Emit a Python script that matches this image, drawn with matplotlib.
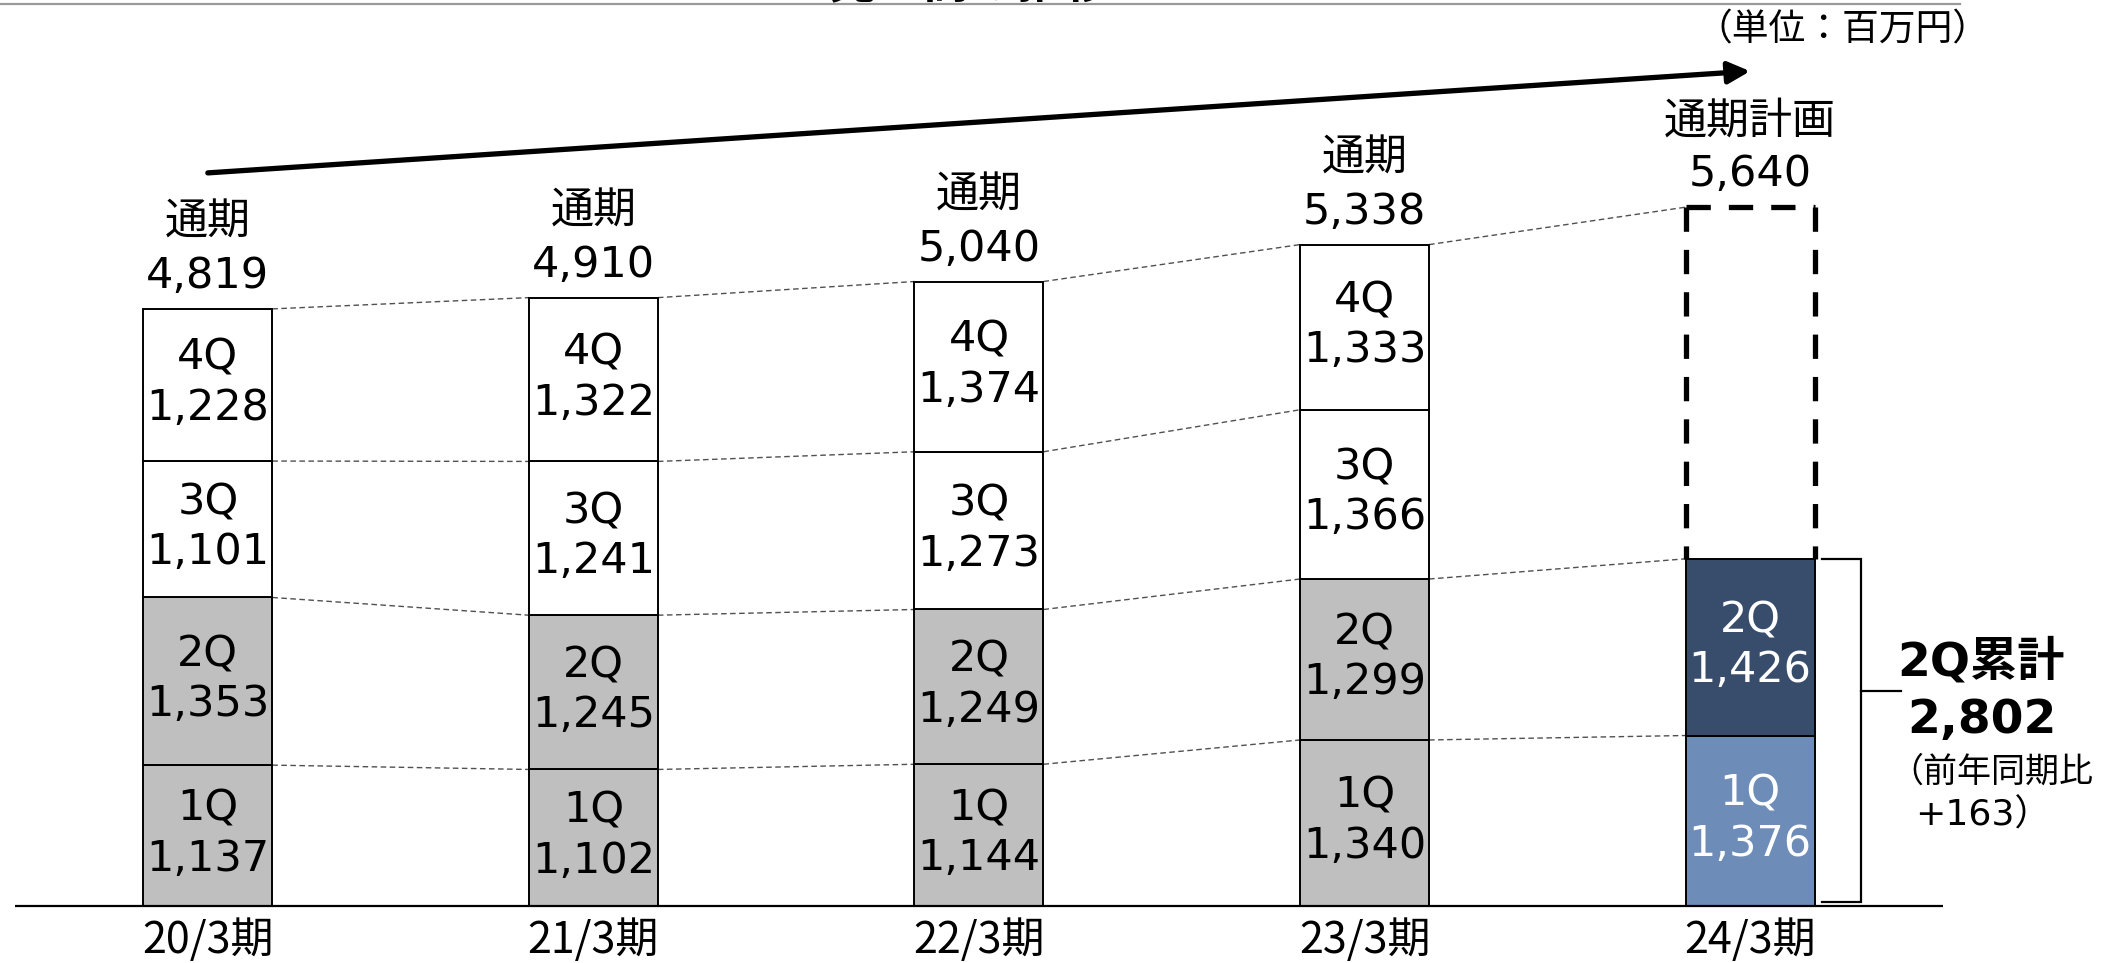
import matplotlib
matplotlib.use("Agg")
import matplotlib.pyplot as plt
import numpy as np

plt.rcParams["lines.scale_dashes"] = False

# ---- data (百万円) ----
periods = ["20/3期", "21/3期", "22/3期", "23/3期", "24/3期"]
q1 = [1137, 1102, 1144, 1340, 1376]
q2 = [1353, 1245, 1249, 1299, 1426]
q3 = [1101, 1241, 1273, 1366]
q4 = [1228, 1322, 1374, 1333]
full_year = [4819, 4910, 5040, 5338]
plan_full_year = 5640
h1_total = q1[4] + q2[4]           # 2,802
h1_prev = q1[3] + q2[3]            # 2,639
h1_diff = h1_total - h1_prev       # +163

GRAY = "#BFBFBF"
NAVY = "#384D6C"
LIGHT = "#6D8CB8"
MIX = ["DejaVu Sans", "Noto Sans CJK JP"]
JP = ["Noto Sans CJK JP", "DejaVu Sans"]
PX = 0.72  # points per pixel at 100 dpi
FS = 31

fig = plt.figure(figsize=(21.01, 9.63), dpi=100)
ax = fig.add_axes([0, 0, 1, 1])
ax.set_xlim(-0.539, 4.910)
ax.set_ylim(-460.0, 7312.0)
ax.axis("off")

x = np.arange(len(periods))
w = 0.3346

# ---- stacked bars ----
c1 = np.array(q1)
c2 = c1 + np.array(q2)
c3 = c2[:4] + np.array(q3)
c4 = c3 + np.array(q4)

col1 = [GRAY] * 4 + [LIGHT]
col2 = [GRAY] * 4 + [NAVY]
ax.bar(x, q1, w, color=col1, edgecolor="black", lw=1.4, zorder=3)
ax.bar(x, q2, w, bottom=c1, color=col2, edgecolor="black", lw=1.4, zorder=3)
ax.bar(x[:4], q3, w, bottom=c2[:4], color="white", edgecolor="black", lw=1.4, zorder=3)
ax.bar(x[:4], q4, w, bottom=c3, color="white", edgecolor="black", lw=1.4, zorder=3)


def seg_label(xi, bottom, height, name, value, color):
    mid = bottom + height / 2
    ax.annotate(name, (xi, mid), xytext=(0, 15 * PX), textcoords="offset points",
                ha="center", va="baseline", fontsize=FS, family=MIX, color=color, zorder=5)
    ax.annotate(f"{value:,}", (xi, mid), xytext=(0, -35 * PX), textcoords="offset points",
                ha="center", va="baseline", fontsize=FS, family=MIX, color=color, zorder=5)


for i in range(5):
    tc = "white" if i == 4 else "black"
    seg_label(i, 0, q1[i], "1Q", q1[i], tc)
    seg_label(i, c1[i], q2[i], "2Q", q2[i], tc)
    if i < 4:
        seg_label(i, c2[i], q3[i], "3Q", q3[i], tc)
        seg_label(i, c3[i], q4[i], "4Q", q4[i], tc)

# ---- full-year labels ----
tops = full_year + [plan_full_year]
for i, top in enumerate(tops):
    head = "通期計画" if i == 4 else "通期"
    ax.annotate(f"{top:,}", (i, top), xytext=(0, 21 * PX), textcoords="offset points",
                ha="center", va="baseline", fontsize=FS, family=MIX, zorder=5)
    ax.annotate(head, (i, top), xytext=(0, 74 * PX), textcoords="offset points",
                ha="center", va="baseline", fontsize=FS, family=MIX, zorder=5)

# ---- plan box (dashed) ----
xl, xr = 4 - w / 2, 4 + w / 2
dash = dict(color="black", lw=3.8, dashes=(17.5, 13.0), solid_capstyle="butt",
            dash_capstyle="butt", zorder=4)
ax.plot([xl, xl], [plan_full_year, h1_total], **dash)
ax.plot([xr, xr], [plan_full_year, h1_total], **dash)
ax.plot([xl, xr], [plan_full_year, plan_full_year], **dash)

# ---- connectors between bars ----
levels_past = [c1, c2, c3, c4]
conn = dict(color="#505050", lw=1.0, dashes=(4.0, 2.5), zorder=2)
for i in range(3):
    for lev in levels_past:
        ax.plot([i + w / 2, i + 1 - w / 2], [lev[i], lev[i + 1]], **conn)
for a, b in [(c1[3], c1[4]), (c2[3], c2[4]), (c4[3], plan_full_year)]:
    ax.plot([3 + w / 2, 4 - w / 2], [a, b], **conn)

# ---- baseline ----
ax.plot([-0.5, 4.5], [0, 0], color="black", lw=1.6, zorder=4, solid_capstyle="butt")

# ---- period labels ----
for i, p in enumerate(periods):
    ax.annotate(p, (i, 0), xytext=(0, -35 * PX), textcoords="offset points",
                ha="center", va="center", fontsize=31, family=JP)

# ---- growth arrow ----
lift = 136 / 0.1239
ax.annotate("", xy=(4, plan_full_year + lift), xytext=(0, full_year[0] + lift),
            arrowprops=dict(arrowstyle="-|>,head_length=0.6,head_width=0.3",
                            mutation_scale=22, lw=3.8, color="black",
                            shrinkA=0, shrinkB=0), zorder=5)

# ---- first-half bracket and summary ----
bx0, bx1, bx2 = 4.187, 4.288, 4.392
btm = 30
mid_y = h1_total * 0.62
ax.plot([bx0, bx1, bx1, bx0], [h1_total, h1_total, btm, btm], color="black", lw=1.6,
        solid_joinstyle="miter", zorder=4)
ax.plot([bx1, bx2], [mid_y, mid_y], color="black", lw=1.6, zorder=4)

ax.text(4.60, 1864, "2Q累計", ha="center", va="baseline", fontsize=34,
        fontweight="bold", family=MIX)
ax.text(4.60, 1396, f"{h1_total:,}", ha="center", va="baseline", fontsize=34,
        fontweight="bold", family=MIX)
ax.text(4.362, 1000, "（前年同期比", ha="left", va="baseline", fontsize=24.5, family=JP)
ax.text(4.428, 646, f"+{h1_diff}）", ha="left", va="baseline", fontsize=26, family=MIX)

# ---- header ----
fig.text(1842 / 2101, 1 - 30 / 963, "（単位：百万円）", ha="center", va="center",
         fontsize=26.5, family=JP)
fig.add_artist(plt.Line2D([0, 1960 / 2101], [1 - 4 / 963, 1 - 4 / 963],
                          color="#9A9A9A", lw=1.6, transform=fig.transFigure))
fig.text(970 / 2101, 1 + 3 / 963, "売上高の推移", ha="center", va="baseline",
         fontsize=34, fontweight="bold", family=JP)

fig.savefig("out.png", dpi=100, facecolor="white")
